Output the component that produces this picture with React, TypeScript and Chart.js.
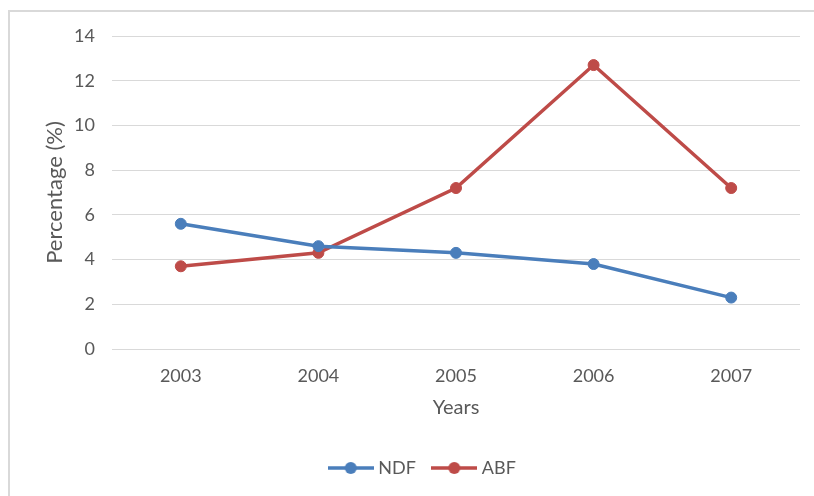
import React, { useEffect, useRef } from "react";
import { Chart, registerables } from "chart.js";

Chart.register(...registerables);

const years = ["2003", "2004", "2005", "2006", "2007"];
const ndfValues = [5.6, 4.6, 4.3, 3.8, 2.3];
const abfValues = [3.7, 4.3, 7.2, 12.7, 7.2];
const seriesNames = ["NDF", "ABF"];
const yMin = 0;
const yMax = 14;
const yStep = 2;

const BLUE = "#4A7EBB";
const RED = "#BE4B48";
const TEXT = "#595959";
const GRID = "#D9D9D9";
const FONT = "Lato, 'Open Sans', sans-serif";

function legendIcon(color: string): HTMLCanvasElement {
  const c = document.createElement("canvas");
  c.width = 46;
  c.height = 14;
  const ctx = c.getContext("2d")!;
  ctx.strokeStyle = color;
  ctx.lineWidth = 3.5;
  ctx.beginPath();
  ctx.moveTo(0, 7);
  ctx.lineTo(46, 7);
  ctx.stroke();
  ctx.fillStyle = color;
  ctx.beginPath();
  ctx.arc(23, 7, 6, 0, Math.PI * 2);
  ctx.fill();
  return c;
}

export default function App() {
  const ref = useRef<HTMLCanvasElement | null>(null);

  useEffect(() => {
    if (!ref.current) return;
    const colors = [BLUE, RED];
    const icons = colors.map((c) => legendIcon(c));
    const chart = new Chart(ref.current, {
      type: "line",
      data: {
        labels: years,
        datasets: [
          {
            label: seriesNames[0],
            data: ndfValues,
            borderColor: BLUE,
            backgroundColor: BLUE,
            borderWidth: 3.5,
            pointRadius: 5.5,
            pointBorderWidth: 1,
            pointBackgroundColor: BLUE,
            pointBorderColor: BLUE,
            tension: 0,
          },
          {
            label: seriesNames[1],
            data: abfValues,
            borderColor: RED,
            backgroundColor: RED,
            borderWidth: 3.5,
            pointRadius: 5.5,
            pointBorderWidth: 1,
            pointBackgroundColor: RED,
            pointBorderColor: RED,
            tension: 0,
          },
        ],
      },
      options: {
        responsive: false,
        animation: false,
        layout: { padding: { left: 48, right: 14, top: 36, bottom: 9 } },
        plugins: {
          tooltip: { enabled: false },
          legend: {
            display: true,
            position: "bottom",
            labels: {
              usePointStyle: true,
              pointStyleWidth: 37,
              padding: 20,
              color: TEXT,
              font: { family: FONT, size: 18 },
              generateLabels: (ch: any) =>
                ch.data.datasets.map((ds: any, i: number) => ({
                  text: ds.label,
                  pointStyle: icons[i],
                  fillStyle: colors[i],
                  strokeStyle: colors[i],
                  lineWidth: 0,
                  hidden: false,
                  datasetIndex: i,
                  fontColor: TEXT,
                })),
            },
          },
        },
        scales: {
          x: {
            offset: true,
            grid: { display: false, drawTicks: false },
            border: { display: false },
            ticks: { color: TEXT, font: { family: FONT, size: 18 }, padding: 16 },
            title: {
              display: true,
              text: "Years",
              color: TEXT,
              font: { family: FONT, size: 20 },
              padding: { top: 0, bottom: 19 },
            },
            afterFit: (s: any) => {
              s.height = 90;
            },
          },
          y: {
            min: yMin,
            max: yMax,
            ticks: { stepSize: yStep, color: TEXT, font: { family: FONT, size: 18 }, padding: 17 },
            grid: { color: GRID, lineWidth: 1, drawTicks: false },
            border: { display: false },
            title: {
              display: true,
              text: "Percentage (%)",
              color: TEXT,
              font: { family: FONT, size: 22 },
              padding: { top: -6, bottom: 0 },
            },
            afterFit: (s: any) => {
              s.width = 64;
            },
          },
        },
      },
    });
    return () => chart.destroy();
  }, []);

  return (
    <div
      style={{
        position: "fixed",
        left: 0,
        top: 0,
        width: 814,
        height: 496,
        overflow: "hidden",
        background: "#ffffff",
      }}
    >
      <div
        style={{
          position: "absolute",
          left: 8,
          top: 10,
          width: 900,
          height: 600,
          borderLeft: "2px solid #D9D9D9",
          borderTop: "2px solid #D9D9D9",
        }}
      />
      <canvas
        ref={ref}
        width={814}
        height={496}
        style={{ position: "absolute", left: 0, top: 0, width: 814, height: 496 }}
      />
    </div>
  );
}
